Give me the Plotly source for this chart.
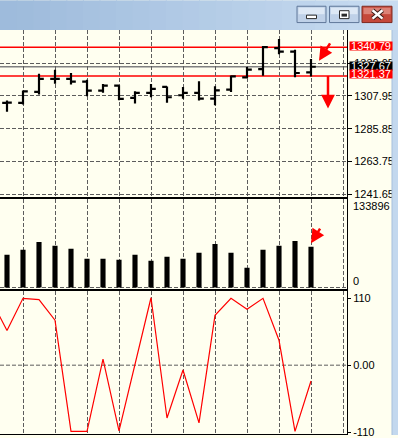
import plotly.graph_objects as go

# ---------------- data ----------------
bar_index = list(range(20))
opens  = [1303.32, 1303.32, 1310.70, 1319.43, 1319.43, 1317.61, 1311.57, 1314.93, 1306.67, 1310.03,
          1314.06, 1308.42, 1310.03, 1306.20, 1312.25, 1320.50, 1326.14, 1340.23, 1337.95, 1323.86]
highs  = [1304.86, 1311.57, 1322.98, 1325.67, 1323.45, 1318.96, 1316.07, 1315.13, 1311.10, 1316.07,
          1314.30, 1314.06, 1317.82, 1314.46, 1321.84, 1327.48, 1341.78, 1346.47, 1339.09, 1332.85]
lows   = [1297.28, 1302.18, 1308.89, 1316.27, 1315.60, 1307.75, 1310.03, 1305.06, 1302.85, 1307.08,
          1303.32, 1306.00, 1304.86, 1301.71, 1310.70, 1320.10, 1321.64, 1336.21, 1320.50, 1321.17]
closes = [1303.40, 1311.10, 1319.43, 1319.50, 1317.61, 1311.57, 1314.93, 1306.00, 1310.03, 1312.72,
          1307.08, 1310.03, 1306.20, 1311.78, 1321.17, 1325.67, 1340.90, 1337.95, 1323.45, 1327.67]
volumes = [49600, 57200, 69200, 63200, 58700, 43600, 43600, 42100, 49600, 40600,
           46600, 43600, 52700, 66200, 52700, 30100, 57200, 63200, 70700, 61700]
cci_index = list(range(-1, 20))
cci_values = [108, 57, 110, 108, 74, -109, -109, 10, -108, 2, 111,
              -87, -8, -95, 82, 110, 92, 110, 41, -109, -26]

price_ticks = [1241.65, 1263.75, 1285.85, 1307.95, 1330.05]
red_levels = [1340.79, 1321.37]
bid_level = 1327.67
volume_max_label = 133896
cci_ticks = [110, 0, -110]
cci_ticktext = ["110", "0.00", "-110"]
grid_x = list(range(1, 22, 2))

# ---------------- geometry / style ----------------
W, H = 398, 438
ML, MR, MT, MB = 0, 51, 30, 0
PW, PH = W - ML - MR, H - MT - MB


def pxp(x):
    return (x - ML) / PW


def pyp(y):
    return (H - MB - y) / PH


FONT = "Liberation Sans"
IVORY = "#FFFFF0"
GRID = "#5c5c5c"
DASH = "4px,2px"

price_scale = 1.49
price_range = [1307.95 - (198 - 96.4) / price_scale, 1307.95 + (96.4 - 30) / price_scale]
vol_scale = 1504.4
vol_range = [-(292 - 290) * vol_scale, (290 - 200.5) * vol_scale]
cci_scale = 0.6136
cci_range = [-(438 - 368.5) / cci_scale, (368.5 - 294) / cci_scale]
x_range = [-7 / 16, 340 / 16]

fig = go.Figure()
fig.add_trace(go.Ohlc(
    x=bar_index, open=opens, high=highs, low=lows, close=closes,
    xaxis="x", yaxis="y",
    increasing=dict(line=dict(color="black", width=2.2)),
    decreasing=dict(line=dict(color="black", width=2.2)),
    tickwidth=0.3, showlegend=False, hoverinfo="skip"))
fig.add_trace(go.Bar(
    x=bar_index, y=volumes, xaxis="x2", yaxis="y2", width=0.32,
    marker=dict(color="black", line=dict(width=0)), showlegend=False, hoverinfo="skip"))
fig.add_trace(go.Scatter(
    x=cci_index, y=cci_values, xaxis="x3", yaxis="y3", mode="lines",
    line=dict(color="red", width=1.2), showlegend=False, hoverinfo="skip"))

xcommon = dict(range=x_range, tickvals=grid_x, showticklabels=False, showgrid=True,
               gridcolor=GRID, griddash=DASH, gridwidth=1, showline=True, mirror=True,
               linecolor="black", linewidth=1, ticks="", zeroline=False, fixedrange=True)
ycommon = dict(side="right", showline=True, linecolor="black", linewidth=1, zeroline=False,
               tickfont=dict(family=FONT, size=11, color="black"), fixedrange=True,
               ticklabeloverflow="allow")

fig.update_layout(
    width=W, height=H, margin=dict(l=ML, r=MR, t=MT, b=MB),
    paper_bgcolor=IVORY, plot_bgcolor=IVORY,
    xaxis=dict(domain=[0, 1], anchor="y", rangeslider=dict(visible=False), **xcommon),
    xaxis2=dict(domain=[0, 1], anchor="y2", matches="x", **xcommon),
    xaxis3=dict(domain=[0, 1], anchor="y3", matches="x", **xcommon),
    yaxis=dict(domain=[pyp(198.5), 1], anchor="x", range=price_range, tickvals=price_ticks,
               ticktext=[f"{v:.2f}" for v in price_ticks], showgrid=True, gridcolor=GRID,
               griddash=DASH, ticks="outside", ticklen=4, tickcolor="black", **ycommon),
    yaxis2=dict(domain=[pyp(292), pyp(200.5)], anchor="x2", range=vol_range, tickvals=[0],
                showticklabels=False, showgrid=True, gridcolor=GRID, griddash=DASH,
                ticks="", **ycommon),
    yaxis3=dict(domain=[0, pyp(294)], anchor="x3", range=cci_range, tickvals=cci_ticks,
                ticktext=cci_ticktext, showgrid=False, ticks="outside", ticklen=3,
                tickcolor="black", **ycommon),
)

shapes = []
# level lines (drawn under the bars)
for lv in red_levels:
    shapes.append(dict(type="line", xref="x", yref="y", x0=x_range[0], x1=x_range[1], y0=lv, y1=lv,
                       line=dict(color="red", width=1.5), layer="below"))
shapes.append(dict(type="line", xref="x", yref="y", x0=x_range[0], x1=x_range[1],
                   y0=bid_level, y1=bid_level, line=dict(color="#808080", width=1.6), layer="below"))
shapes.append(dict(type="line", xref="x3", yref="y3", x0=x_range[0], x1=x_range[1], y0=0, y1=0,
                   line=dict(color=GRID, width=1, dash=DASH), layer="below"))

# title bar gradient
n = 24
c0, c1 = (158, 187, 220), (200, 220, 241)
for i in range(n):
    t = i / (n - 1)
    col = "rgb(%d,%d,%d)" % tuple(int(a + (b - a) * t) for a, b in zip(c0, c1))
    shapes.append(dict(type="rect", xref="paper", yref="paper",
                       x0=pxp(W * i / n), x1=pxp(W * (i + 1) / n + 1), y0=pyp(30), y1=pyp(0),
                       fillcolor=col, line=dict(width=0), layer="above"))
# right strip
shapes.append(dict(type="rect", xref="paper", yref="paper", x0=pxp(392), x1=pxp(399),
                   y0=pyp(439), y1=pyp(30), fillcolor="#C3D8EE",
                   line=dict(width=0), layer="above"))
shapes.append(dict(type="line", xref="paper", yref="paper", x0=pxp(392), x1=pxp(392),
                   y0=pyp(439), y1=pyp(30), line=dict(color="#A7BFDC", width=1), layer="above"))

# window buttons
for (bx0, bx1, fill, hi, border) in [(297, 326, "#BFD1E8", "#DDE8F5", "#60789A"),
                                     (329.5, 359, "#BFD1E8", "#DDE8F5", "#60789A"),
                                     (362, 392, "#C5483A", "#DC8276", "#7E2A20")]:
    shapes.append(dict(type="rect", xref="paper", yref="paper", x0=pxp(bx0), x1=pxp(bx1),
                       y0=pyp(22.5), y1=pyp(6), fillcolor=fill,
                       line=dict(color=border, width=1), layer="above"))
    shapes.append(dict(type="rect", xref="paper", yref="paper", x0=pxp(bx0 + 1.5), x1=pxp(bx1 - 1.5),
                       y0=pyp(14), y1=pyp(7.5), fillcolor=hi,
                       line=dict(width=0), layer="above"))
# minimize glyph
shapes.append(dict(type="rect", xref="paper", yref="paper", x0=pxp(306.5), x1=pxp(316.5),
                   y0=pyp(18.5), y1=pyp(15), fillcolor="white",
                   line=dict(color="#2b2b2b", width=1), layer="above"))
# maximize glyph
shapes.append(dict(type="rect", xref="paper", yref="paper", x0=pxp(339.5), x1=pxp(349),
                   y0=pyp(18.5), y1=pyp(10.5), fillcolor="white",
                   line=dict(color="#2b2b2b", width=1), layer="above"))
shapes.append(dict(type="rect", xref="paper", yref="paper", x0=pxp(341.5), x1=pxp(347),
                   y0=pyp(16.5), y1=pyp(13.5), fillcolor="#2b2b2b",
                   line=dict(width=0), layer="above"))
# close glyph
for w, c in [(4.5, "#3a1a15"), (2.5, "white")]:
    shapes.append(dict(type="line", xref="paper", yref="paper", x0=pxp(372.5), x1=pxp(382.5),
                       y0=pyp(10), y1=pyp(18.5), line=dict(color=c, width=w), layer="above"))
    shapes.append(dict(type="line", xref="paper", yref="paper", x0=pxp(372.5), x1=pxp(382.5),
                       y0=pyp(18.5), y1=pyp(10), line=dict(color=c, width=w), layer="above"))
fig.update_layout(shapes=shapes)

ann = []
for val, col, ys in [(red_levels[0], "red", 1.6), (bid_level, "black", 1.2), (red_levels[1], "red", 1.6)]:
    ann.append(dict(x=1, xref="paper", xanchor="left", xshift=2, y=val, yref="y", yshift=ys,
                    text=f"{val:.2f}", showarrow=False, bgcolor=col, width=42, height=8.4,
                    borderpad=0, align="center",
                    font=dict(family=FONT, size=11, color="white")))
ann.append(dict(x=1, xref="paper", xanchor="left", xshift=4, y=volume_max_label, yref="y2",
                yshift=-7, text=str(volume_max_label), showarrow=False,
                font=dict(family=FONT, size=11, color="black")))
ann.append(dict(x=1, xref="paper", xanchor="left", xshift=4, y=0, yref="y2", yshift=6,
                text="0", showarrow=False, font=dict(family=FONT, size=11, color="black")))
# red hand-drawn arrows
arrow_common = dict(text="", showarrow=True, arrowhead=2, arrowsize=1.1, arrowwidth=2.5,
                    arrowcolor="red", startstandoff=0, standoff=0, font=dict(size=1))
ann.append(dict(x=(319 - 7) / 16, xref="x", y=1331.7, yref="y", ax=12, ay=-19, **arrow_common))
ann.append(dict(x=(328 - 7) / 16, xref="x", y=1299.5, yref="y", ax=0, ay=-34, **arrow_common))
ann.append(dict(x=(311 - 7) / 16, xref="x2", y=67300, yref="y2", ax=10, ay=-16, **arrow_common))
fig.update_layout(annotations=ann)

fig.write_html("out.html")
